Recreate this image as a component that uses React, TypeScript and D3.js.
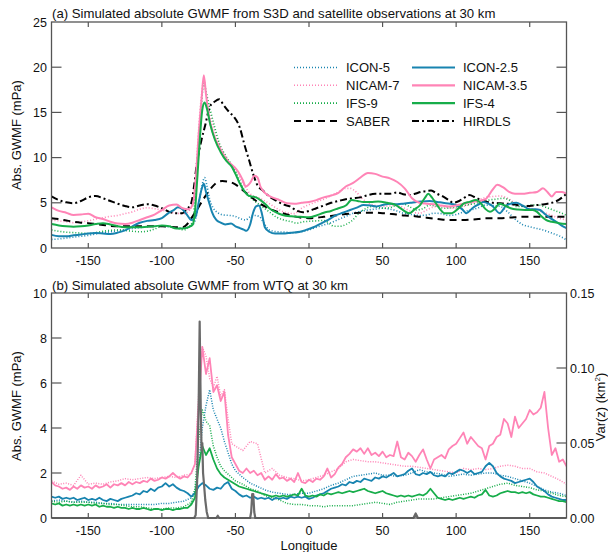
import React from "react";
import * as d3 from "d3";

type P = [number, number];

const lonTicks = [-150, -100, -50, 0, 50, 100, 150];
const yTicksA = [0, 5, 10, 15, 20, 25];
const yTicksB = [0, 2, 4, 6, 8, 10];
const varTicks = [0, 0.05, 0.1, 0.15];

// ---------- Panel (a): smooth zonal means ----------
const icon5A: P[] = [[-175,0.95],[-170,1.0],[-165,1.1],[-160,1.2],[-155,1.3],[-150,1.4],[-145,1.55],[-140,1.7],[-135,1.8],[-130,1.9],[-125,2.05],[-120,2.15],[-115,2.25],[-110,2.35],[-105,2.4],[-100,2.4],[-95,2.35],[-90,2.25],[-85,2.2],[-81,2.35],[-78,2.8],[-76,4.0],[-74,5.8],[-72,7.4],[-71,7.8],[-69.5,7.0],[-67.5,5.4],[-65,4.4],[-62,3.9],[-58,3.65],[-54,3.6],[-50,3.5],[-46,3.2],[-43,3.1],[-40,3.45],[-37,3.6],[-34,3.5],[-30,2.6],[-27,2.0],[-22,1.8],[-16,1.75],[-10,1.7],[-5,1.8],[0,2.0],[5,2.3],[10,2.55],[15,2.8],[20,3.15],[25,3.5],[30,3.85],[35,4.05],[40,4.2],[45,4.3],[50,4.4],[55,4.3],[60,4.1],[64,3.85],[70,3.7],[75,3.6],[80,3.65],[85,3.85],[90,3.8],[95,3.6],[100,3.7],[105,4.0],[110,4.2],[115,4.45],[120,4.75],[125,4.7],[130,4.6],[135,4.0],[140,3.2],[145,2.6],[150,2.35],[155,2.15],[160,1.95],[165,1.65],[170,1.35],[175,0.9]];
const icon25A: P[] = [[-175,1.45],[-170,1.3],[-165,1.3],[-160,1.4],[-155,1.5],[-150,1.6],[-145,1.65],[-140,1.6],[-135,1.55],[-130,1.7],[-125,1.95],[-120,2.4],[-115,2.8],[-110,3.0],[-105,3.1],[-100,3.3],[-96,3.8],[-92,4.2],[-89,4.5],[-86,4.3],[-83,3.7],[-80,3.1],[-77,3.5],[-75,5.0],[-73,6.5],[-71.5,7.1],[-70,6.2],[-68,5.1],[-66,4.0],[-63,3.1],[-60,2.8],[-57,2.6],[-53,2.7],[-50,2.4],[-47,2.2],[-44,2.0],[-42.5,1.9],[-40,2.6],[-38,3.9],[-36,4.6],[-34,4.7],[-32,3.8],[-30,2.3],[-27,1.8],[-23,1.6],[-18,1.6],[-12,1.7],[-6,1.8],[-2,2.0],[3,2.3],[8,2.7],[13,3.1],[18,3.6],[23,3.9],[28,4.2],[33,4.5],[37,4.75],[42,4.7],[46,4.6],[50,4.75],[55,4.9],[60,4.85],[64,4.9],[69,5.0],[73,5.1],[78,5.15],[82,5.2],[87,5.1],[91,5.0],[96,4.9],[100,4.75],[104,4.3],[107,3.85],[111,4.4],[115,4.8],[118.5,5.1],[122,4.9],[125,4.6],[129.5,3.85],[134,4.7],[137,4.9],[141,5.0],[145,4.7],[150,4.3],[154,4.3],[157,4.2],[160,3.8],[164,3.3],[168,2.9],[172,2.45],[175,2.2]];
const nicam7A: P[] = [[-175,3.1],[-170,3.0],[-165,2.9],[-160,2.8],[-155,2.9],[-150,3.0],[-145,3.2],[-140,3.35],[-135,3.5],[-130,3.6],[-125,3.8],[-120,4.0],[-115,4.3],[-110,4.45],[-105,4.35],[-100,4.2],[-95,4.0],[-90,3.85],[-85,3.8],[-81,4.2],[-79,5.0],[-77,8.0],[-75,13.2],[-73,17.0],[-71.5,18.6],[-70,17.2],[-67,14.5],[-64,12.8],[-61,11.5],[-57,10.2],[-53,9.2],[-49,8.6],[-46,7.5],[-43.5,6.8],[-40,6.0],[-35,5.6],[-31,5.3],[-25,4.7],[-20,4.2],[-15,3.9],[-10,3.8],[-5,4.4],[0,4.8],[5,5.1],[10,5.4],[15,5.8],[20,6.2],[25,6.6],[28,6.6],[32,6.2],[36,5.5],[41,4.9],[45,4.7],[50,4.6],[55,4.65],[60,4.7],[65,4.4],[70,4.0],[75,3.85],[80,4.2],[85,4.55],[90,4.6],[95,4.45],[100,4.4],[105,4.6],[110,4.9],[115,5.3],[120,5.6],[125,5.7],[130,5.75],[135,5.5],[140,5.0],[145,4.7],[150,4.4],[155,4.2],[160,3.9],[165,3.6],[170,3.3],[175,3.1]];
const nicam35A: P[] = [[-175,4.5],[-170,4.1],[-165,3.9],[-160,3.65],[-155,3.7],[-150,3.8],[-145,3.4],[-140,3.2],[-135,2.9],[-130,2.7],[-125,2.65],[-120,2.8],[-115,3.1],[-110,3.4],[-105,3.7],[-100,4.2],[-95,4.7],[-90,4.8],[-86,4.4],[-82,4.3],[-79,4.8],[-77,7.5],[-75,12.5],[-73,16.5],[-71.5,19.1],[-70,17.0],[-68,14.5],[-65,12.6],[-62,11.5],[-58,10.3],[-55,9.6],[-51,9.0],[-48,8.4],[-45,7.5],[-43,6.8],[-40,7.2],[-37,8.0],[-35,7.8],[-33,6.8],[-30,6.1],[-25,5.6],[-20,5.3],[-15,4.95],[-10,4.9],[-5,5.0],[0,5.1],[5,5.3],[10,5.6],[15,5.8],[20,6.1],[25,6.8],[30,7.2],[35,7.8],[40,8.3],[45,8.2],[50,7.9],[55,7.7],[60,7.3],[65,6.6],[70,5.5],[75,5.0],[80,4.9],[85,4.85],[90,4.7],[95,4.6],[100,4.7],[105,4.9],[110,5.1],[115,5.2],[120,5.4],[125,6.5],[128,7.0],[132,6.7],[136,6.2],[140,6.0],[145,6.0],[150,6.1],[155,6.2],[159,6.6],[162,6.2],[165,5.7],[168,6.2],[172,6.2],[175,6.0]];
const ifs9A: P[] = [[-175,2.0],[-170,1.85],[-165,1.75],[-160,1.7],[-155,1.65],[-150,1.6],[-145,1.7],[-140,1.85],[-135,1.95],[-130,2.0],[-125,1.95],[-120,1.85],[-115,1.8],[-110,1.85],[-105,2.1],[-100,2.4],[-95,2.4],[-90,2.2],[-85,2.0],[-82,2.3],[-79,3.0],[-77,6.5],[-75,11.5],[-73,16.0],[-71.5,18.4],[-70,17.3],[-67,15.2],[-64,13.3],[-61,11.6],[-57,10.3],[-53,9.3],[-50,8.5],[-47,7.4],[-44,6.4],[-41,5.8],[-37,5.2],[-32,4.6],[-27,4.0],[-22,3.4],[-17,3.1],[-12,2.9],[-8,2.75],[-4,2.9],[0,2.95],[5,3.0],[10,3.05],[14,2.7],[17,2.4],[21,2.4],[25,2.6],[29,3.0],[34,3.85],[39,4.4],[43,4.6],[47,4.5],[51,4.4],[56,4.5],[60,4.8],[64,4.9],[68,4.6],[73,4.2],[78,4.4],[82,4.75],[87,4.6],[92,4.4],[97,4.45],[102,4.6],[107,4.75],[112,4.9],[117,5.1],[122,5.3],[127,5.4],[132,5.5],[137,5.2],[141,4.6],[146,4.6],[151,4.75],[156,4.75],[161,4.5],[166,4.2],[171,3.9],[175,3.6]];
const ifs4A: P[] = [[-175,2.65],[-170,2.5],[-165,2.4],[-160,2.35],[-155,2.4],[-150,2.5],[-145,2.65],[-140,2.75],[-135,2.6],[-130,2.4],[-125,2.3],[-120,2.3],[-115,2.3],[-110,2.35],[-105,2.4],[-100,2.5],[-95,2.4],[-90,2.15],[-86,2.15],[-82,2.3],[-79,2.6],[-77.5,4.0],[-76,7.5],[-74,12.5],[-72.5,15.3],[-71,16.1],[-69.5,15.5],[-67,13.6],[-64,12.0],[-60,10.6],[-56,9.6],[-52.5,9.0],[-50,8.2],[-47.5,7.3],[-44,6.3],[-42,5.9],[-39,5.7],[-36,5.6],[-33,5.3],[-30,4.9],[-27,4.4],[-23,4.0],[-18,3.65],[-12,3.5],[-6,3.45],[0,3.4],[5,3.6],[10,3.9],[15,4.1],[20,4.4],[25,4.7],[29,5.3],[33,5.2],[37,5.1],[42,5.1],[47,5.15],[53,5.0],[59,4.75],[63,4.3],[68,3.85],[72,4.3],[75.5,4.75],[79,5.6],[81,6.0],[83.5,5.6],[86,5.0],[89,4.3],[92,3.85],[97,3.85],[101,4.3],[105,4.9],[109,5.1],[113.5,5.3],[117,4.9],[120,4.3],[123,4.0],[126,4.3],[129.5,4.9],[133,4.7],[137,4.4],[142,4.25],[147,4.2],[152,4.2],[155,4.0],[158,3.5],[161,3.1],[165,2.9],[170,2.75],[175,2.65]];
const saberA: P[] = [[-175,3.3],[-170,3.2],[-165,3.05],[-160,2.9],[-155,2.8],[-150,2.75],[-145,2.65],[-140,2.55],[-135,2.45],[-130,2.4],[-125,2.4],[-120,2.4],[-115,2.4],[-110,2.4],[-105,2.4],[-100,2.4],[-95,2.35],[-90,2.3],[-86,2.3],[-83,2.6],[-80,3.3],[-77,4.0],[-74,4.8],[-71,5.6],[-68,6.3],[-65,6.9],[-62,7.3],[-59,7.4],[-55,7.35],[-52,7.2],[-48,6.8],[-45,6.4],[-42,6.0],[-39,5.6],[-35,5.1],[-30,4.6],[-25,4.2],[-20,3.95],[-15,3.7],[-10,3.5],[-5,3.35],[0,3.3],[5,3.35],[10,3.45],[15,3.55],[20,3.65],[25,3.75],[30,3.85],[35,3.9],[40,3.9],[45,3.9],[50,3.85],[55,3.8],[60,3.7],[65,3.6],[70,3.55],[75,3.45],[80,3.35],[85,3.25],[90,3.15],[95,3.1],[100,3.1],[105,3.1],[110,3.15],[115,3.2],[120,3.3],[125,3.3],[130,3.3],[135,3.35],[140,3.4],[145,3.45],[150,3.45],[155,3.45],[160,3.45],[165,3.45],[170,3.45],[175,3.45]];
const hirdlsA: P[] = [[-175,5.7],[-170,5.3],[-165,5.05],[-160,4.95],[-155,5.2],[-150,5.6],[-145,5.75],[-140,5.5],[-135,5.2],[-130,4.9],[-125,4.65],[-120,4.5],[-115,4.7],[-110,4.85],[-105,4.7],[-100,4.4],[-95,4.0],[-90,3.85],[-86,3.85],[-83,4.3],[-80,5.0],[-78,7.0],[-76.5,9.0],[-73,12.0],[-70.5,13.6],[-67.5,15.6],[-64,16.2],[-61,16.45],[-58,15.8],[-54,15.0],[-51,14.5],[-47,13.3],[-44,11.5],[-40.5,9.6],[-38,8.2],[-35.5,7.1],[-31,6.3],[-27,5.7],[-22,5.2],[-17,4.8],[-13,4.6],[-8,4.1],[-4,3.95],[0,4.1],[5,4.4],[10,4.7],[15,5.0],[20,5.2],[25,5.4],[30,5.5],[35,5.6],[40,5.85],[45,6.0],[50,6.0],[55,6.0],[60,6.15],[64,5.95],[68,5.85],[72,6.0],[76,6.2],[80,6.3],[83,6.35],[87,6.0],[91,5.7],[95,5.3],[98,5.0],[102,5.2],[106,5.6],[109,5.85],[113,5.6],[117,5.3],[121,5.1],[125,5.0],[130,4.95],[135,4.9],[140,4.8],[145,4.65],[150,4.65],[155,4.75],[160,4.85],[165,5.0],[170,5.35],[175,6.0]];

// ---------- Panel (b): WTQ ----------
const lonsFine = d3.range(-175, 175.01, 2.5);
const lonsDot = [...d3.range(-175, -79, 5), ...d3.range(-77.5, -51, 2.5), ...d3.range(-50, 175.01, 5)];

const nicam35B = [1.6,1.45,1.4,1.3,1.35,1.25,1.4,1.3,1.45,1.35,1.4,1.3,1.45,1.35,1.4,1.5,1.35,1.5,1.45,1.55,1.45,1.6,1.5,1.6,1.55,1.65,1.6,1.75,1.65,1.7,1.8,1.75,1.85,2.0,1.85,1.75,1.85,1.8,2.0,2.4,5.0,7.6,6.4,7.1,5.6,5.9,5.2,5.6,3.7,2.7,2.4,2.1,2.0,2.2,2.0,2.1,1.9,2.0,1.7,1.85,1.7,1.95,1.75,1.8,1.65,1.75,1.6,2.0,1.6,1.55,1.7,1.6,1.75,1.7,1.85,2.2,1.8,1.95,2.25,2.4,2.7,2.85,3.05,2.95,3.1,2.85,3.1,2.8,2.9,2.75,2.95,2.7,2.8,2.75,3.4,2.7,2.6,2.9,2.75,2.5,2.8,3.05,2.6,2.2,2.6,2.7,2.8,2.65,3.05,3.2,3.3,3.55,3.8,3.3,3.6,3.4,3.2,3.1,2.6,3.2,3.3,3.6,3.7,4.4,4.2,3.6,4.5,4.0,4.2,4.4,4.8,4.6,4.7,4.9,5.6,4.0,2.8,3.1,2.5,2.6,2.3];
const icon25B = [0.95,0.9,0.95,0.85,0.9,0.85,0.9,0.8,0.85,0.9,0.8,0.85,0.8,0.9,0.8,0.75,0.85,0.8,0.75,0.85,0.9,0.95,1.0,1.1,1.05,1.2,1.15,1.3,1.2,1.35,1.4,1.55,1.4,1.5,1.35,1.25,1.2,1.1,0.95,1.1,1.4,1.55,1.45,1.3,1.25,1.35,1.3,1.5,1.6,1.3,1.2,1.05,0.95,1.0,0.9,0.95,0.85,0.9,0.85,0.9,0.8,0.9,0.85,0.9,0.85,0.95,0.9,0.95,0.9,0.95,0.85,0.9,1.0,1.05,1.1,1.2,1.3,1.35,1.4,1.5,1.45,1.6,1.55,1.65,1.6,1.75,1.7,1.65,1.8,1.75,1.85,1.8,1.9,2.0,1.85,1.9,1.95,2.1,2.2,1.95,1.9,2.0,1.95,2.05,1.9,1.85,1.9,1.85,2.0,1.95,2.05,2.15,2.1,2.0,2.1,1.95,2.0,2.05,2.3,2.45,2.3,2.0,1.85,1.75,1.7,1.65,1.55,1.6,1.65,1.7,1.75,1.6,1.4,1.3,1.2,1.05,0.95,0.9,0.85,0.8,0.8];
const ifs4B = [0.65,0.6,0.65,0.55,0.6,0.55,0.6,0.55,0.6,0.55,0.6,0.55,0.6,0.5,0.55,0.5,0.5,0.45,0.5,0.45,0.45,0.4,0.45,0.4,0.4,0.45,0.4,0.35,0.4,0.4,0.35,0.4,0.4,0.35,0.4,0.4,0.45,0.45,0.6,0.9,2.3,3.2,2.8,3.1,2.6,2.2,1.95,1.8,1.7,1.6,1.5,1.4,1.35,1.3,1.25,1.2,1.15,1.1,1.05,1.0,0.95,1.0,0.95,1.0,0.95,1.0,1.05,1.0,1.3,1.0,0.95,1.0,0.95,1.05,1.0,1.1,1.05,1.1,1.15,1.1,1.15,1.2,1.15,1.2,1.25,1.3,1.2,1.15,1.1,1.15,1.2,1.1,1.05,1.0,0.95,1.0,0.95,1.0,0.95,1.0,1.05,1.0,1.1,1.3,1.1,0.9,0.85,0.8,0.85,0.8,0.85,0.9,0.85,0.9,0.95,0.9,1.0,1.05,1.25,1.0,0.95,1.0,1.1,1.15,1.2,1.15,1.15,1.1,1.15,1.1,1.15,1.05,1.0,0.95,0.95,0.9,0.85,0.8,0.75,0.75,0.7];
const nicam7B = [1.65,1.5,1.55,1.45,1.9,1.5,1.55,1.5,1.6,1.65,1.75,1.7,1.75,1.8,1.75,1.8,1.85,1.8,1.9,1.95,2.4,5.5,7.6,7.2,6.2,5.8,6.3,5.4,5.7,4.4,3.3,3.2,3.0,3.4,3.3,2.0,2.2,1.9,1.8,1.75,1.65,1.7,1.8,1.9,2.05,2.2,2.5,2.6,2.55,2.5,2.5,2.45,2.4,2.35,2.3,2.3,2.25,2.2,2.15,2.1,2.05,2.0,2.2,2.15,2.2,2.15,2.2,2.3,2.35,2.3,2.2,2.2,2.05,2.0,1.85,1.7,1.5];
const icon5B = [0.75,0.8,0.75,0.7,0.75,0.7,0.7,0.65,0.65,0.6,0.6,0.6,0.6,0.6,0.6,0.65,0.65,0.7,0.75,0.9,1.2,2.4,4.0,5.0,5.7,4.8,4.4,4.0,3.4,2.9,2.4,2.1,1.8,1.55,1.4,1.25,1.15,1.1,1.05,1.05,1.1,1.1,1.2,1.3,1.45,1.55,1.7,1.85,1.9,1.95,2.0,1.9,1.9,1.85,1.9,2.0,2.15,2.05,2.0,1.95,1.85,1.9,1.95,1.9,1.95,2.0,2.0,1.9,1.85,1.75,1.65,1.55,1.4,1.25,1.15,1.1,1.0];
const ifs9B = [0.75,0.7,0.75,0.7,0.7,0.7,0.65,0.65,0.6,0.6,0.55,0.5,0.5,0.45,0.4,0.4,0.45,0.45,0.5,0.7,1.3,3.5,4.8,4.3,4.1,3.2,2.7,2.3,2.1,1.95,1.8,1.65,1.5,1.3,1.2,1.0,0.9,0.8,0.65,0.6,0.6,0.55,0.55,0.5,0.55,0.55,0.55,0.55,0.6,0.65,0.7,0.65,0.6,0.7,0.75,0.8,0.85,0.85,0.85,0.9,0.95,1.0,1.05,1.1,1.2,1.3,1.4,1.5,1.55,1.45,1.4,1.35,1.25,1.2,1.1,1.0,0.95];
const varZ: P[] = [[-175,0],[-78,0],[-77,0.002],[-76,0.025],[-75,0.075],[-74.3,0.131],[-73.6,0.075],[-73,0.045],[-72.5,0.05],[-72,0.03],[-71.3,0.022],[-70.5,0.012],[-69.5,0.004],[-68.5,0],[-63,0],[-62,0.0015],[-61,0],[-40,0],[-39.3,0.004],[-38.6,0.016],[-37.9,0.016],[-37.2,0.004],[-36.5,0],[71,0],[72.5,0.003],[74,0],[175,0]];

const BLUE = "#1884b0";
const PINK = "#ff84b6";
const GREEN = "#17ad4a";
const FONT = "'Liberation Sans', Arial, Helvetica, sans-serif";
const AX = "#555";

const legendItems = [
  { label: "ICON-5", color: BLUE, dash: "1 2", w: 1.6, col: 0, row: 0 },
  { label: "NICAM-7", color: PINK, dash: "1 2", w: 1.6, col: 0, row: 1 },
  { label: "IFS-9", color: GREEN, dash: "1 2", w: 1.6, col: 0, row: 2 },
  { label: "SABER", color: "#000", dash: "7 5", w: 2, col: 0, row: 3 },
  { label: "ICON-2.5", color: BLUE, dash: "", w: 2.2, col: 1, row: 0 },
  { label: "NICAM-3.5", color: PINK, dash: "", w: 2.2, col: 1, row: 1 },
  { label: "IFS-4", color: GREEN, dash: "", w: 2.2, col: 1, row: 2 },
  { label: "HIRDLS", color: "#000", dash: "7 3 2 3", w: 2, col: 1, row: 3 },
];

export default function App() {
  const x = d3.scaleLinear().domain([-175, 175]).range([51.5, 566.5]);
  const yA = d3.scaleLinear().domain([0, 25]).range([248, 22]);
  const yB = d3.scaleLinear().domain([0, 10]).range([518, 293]);
  const yV = d3.scaleLinear().domain([0, 0.15]).range([518, 293]);

  const smoothA = d3.line<P>().x((d) => x(d[0])).y((d) => yA(d[1])).curve(d3.curveMonotoneX);
  const lineB = (lons: number[], vals: number[]) =>
    d3.line<number>().x((_, i) => x(lons[i])).y((d) => yB(d))(vals) || "";
  const lineV = d3.line<P>().x((d) => x(d[0])).y((d) => yV(d[1]));

  const [x0, x1] = x.range();
  const aTop = yA.range()[1], aBot = yA.range()[0];
  const bTop = yB.range()[1], bBot = yB.range()[0];

  const seriesA = [
    { d: icon5A, c: BLUE, dash: "1 2", w: 1.6 },
    { d: nicam7A, c: PINK, dash: "1 2", w: 1.6 },
    { d: ifs9A, c: GREEN, dash: "1 2", w: 1.6 },
    { d: saberA, c: "#000", dash: "7 5", w: 2 },
    { d: hirdlsA, c: "#000", dash: "7 3 2 3", w: 2 },
    { d: icon25A, c: BLUE, dash: "", w: 2 },
    { d: nicam35A, c: PINK, dash: "", w: 2 },
    { d: ifs4A, c: GREEN, dash: "", w: 2 },
  ];
  const seriesB = [
    { lons: lonsDot, v: nicam7B, c: PINK, dash: "1 1.5", w: 1.5 },
    { lons: lonsDot, v: icon5B, c: BLUE, dash: "1 1.5", w: 1.5 },
    { lons: lonsDot, v: ifs9B, c: GREEN, dash: "1 1.5", w: 1.5 },
    { lons: lonsFine, v: nicam35B, c: PINK, dash: "", w: 1.8 },
    { lons: lonsFine, v: icon25B, c: BLUE, dash: "", w: 1.8 },
    { lons: lonsFine, v: ifs4B, c: GREEN, dash: "", w: 1.8 },
  ];

  const frame = (top: number, bot: number) => (
    <rect x={x0} y={top} width={x1 - x0} height={bot - top} fill="none" stroke={AX} strokeWidth={1.3} />
  );
  const xTicks = (top: number, bot: number, labelY: number) => (
    <g>
      {lonTicks.map((t) => (
        <g key={t}>
          <line x1={x(t)} x2={x(t)} y1={bot} y2={bot - 5} stroke={AX} strokeWidth={1.2} />
          <line x1={x(t)} x2={x(t)} y1={top} y2={top + 5} stroke={AX} strokeWidth={1.2} />
          <text x={x(t)} y={labelY} textAnchor="middle" fontSize={12.5}>{t}</text>
        </g>
      ))}
    </g>
  );

  return (
    <svg width={608} height={552} style={{ position: "absolute", left: 0, top: 0, background: "#fff" }} fontFamily={FONT} fill="#111">
      <defs>
        <clipPath id="ca"><rect x={x0} y={aTop} width={x1 - x0} height={aBot - aTop} /></clipPath>
        <clipPath id="cb"><rect x={x0} y={bTop - 2} width={x1 - x0} height={bBot - bTop + 4} /></clipPath>
      </defs>

      {/* Panel (a) */}
      <text x={52} y={18} fontSize={13.2}>(a) Simulated absolute GWMF from S3D and satellite observations at 30 km</text>
      <g clipPath="url(#ca)">
        {seriesA.map((s, i) => (
          <path key={i} d={smoothA(s.d) || ""} fill="none" stroke={s.c} strokeWidth={s.w} strokeDasharray={s.dash || undefined} />
        ))}
      </g>
      {frame(aTop, aBot)}
      {yTicksA.map((t) => (
        <g key={t}>
          {t > 0 && t < 25 && <line x1={x0} x2={x0 + 10} y1={yA(t)} y2={yA(t)} stroke={AX} strokeWidth={1.2} />}
          {t > 0 && t < 25 && <line x1={x1} x2={x1 - 10} y1={yA(t)} y2={yA(t)} stroke={AX} strokeWidth={1.2} />}
          <text x={47} y={yA(t) + 4.5} textAnchor="end" fontSize={12.5}>{t}</text>
        </g>
      ))}
      {xTicks(aTop, aBot, 265)}
      <text transform={`translate(21,135) rotate(-90)`} textAnchor="middle" fontSize={13}>Abs. GWMF (mPa)</text>

      {legendItems.map((l) => {
        const lx = l.col === 0 ? 294 : 412;
        const tx = l.col === 0 ? 346 : 463;
        const ly = 67.5 + l.row * 17.8;
        return (
          <g key={l.label}>
            <line x1={lx} x2={lx + 43} y1={ly} y2={ly} stroke={l.color} strokeWidth={l.w} strokeDasharray={l.dash || undefined} />
            <text x={tx} y={ly + 4.7} fontSize={13}>{l.label}</text>
          </g>
        );
      })}

      {/* Panel (b) */}
      <text x={52} y={290} fontSize={13.2}>(b) Simulated absolute GWMF from WTQ at 30 km</text>
      <g clipPath="url(#cb)">
        {seriesB.map((s, i) => (
          <path key={i} d={lineB(s.lons, s.v)} fill="none" stroke={s.c} strokeWidth={s.w} strokeDasharray={s.dash || undefined} strokeLinejoin="round" />
        ))}
        <path d={lineV(varZ) || ""} fill="none" stroke="#6a6a6a" strokeWidth={2.2} strokeLinejoin="round" />
      </g>
      {frame(bTop, bBot)}
      {yTicksB.map((t) => (
        <g key={t}>
          {t > 0 && t < 10 && <line x1={x0} x2={x0 + 10} y1={yB(t)} y2={yB(t)} stroke={AX} strokeWidth={1.2} />}
          <text x={47} y={yB(t) + 4.5} textAnchor="end" fontSize={12.5}>{t}</text>
        </g>
      ))}
      {varTicks.map((t) => (
        <g key={t}>
          {t > 0 && t < 0.15 && <line x1={x1} x2={x1 - 10} y1={yV(t)} y2={yV(t)} stroke={AX} strokeWidth={1.2} />}
          <text x={570} y={yV(t) + 4.5} textAnchor="start" fontSize={12.5}>{t.toFixed(2)}</text>
        </g>
      ))}
      {xTicks(bTop, bBot, 535)}
      <text transform={`translate(21,406) rotate(-90)`} textAnchor="middle" fontSize={13}>Abs. GWMF (mPa)</text>
      <text transform={`translate(604.5,407) rotate(-90)`} textAnchor="middle" fontSize={13}>
        Var(z) (km<tspan dy={-5} fontSize={8}>2</tspan><tspan dy={5}>)</tspan>
      </text>
      <text x={309} y={550} textAnchor="middle" fontSize={13}>Longitude</text>
    </svg>
  );
}
